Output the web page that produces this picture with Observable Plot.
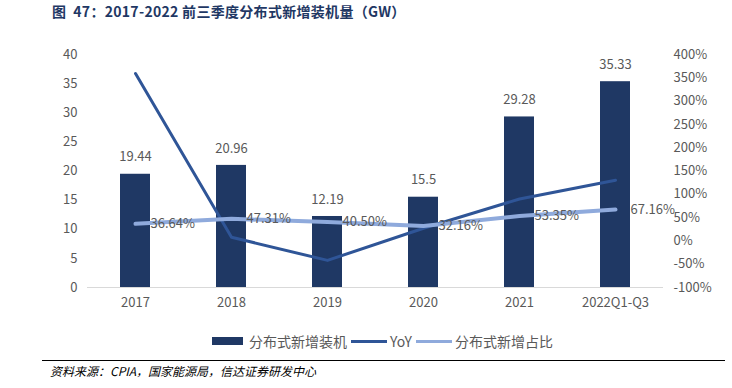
<!DOCTYPE html>
<html>
<head>
<meta charset="utf-8">
<script src="https://cdn.jsdelivr.net/npm/d3@7"></script>
<script src="https://cdn.jsdelivr.net/npm/@observablehq/plot@0.6"></script>
<style>
  html, body { margin: 0; padding: 0; background: #fff; }
  body { width: 732px; height: 388px; overflow: hidden; font-family: "Noto Sans CJK SC", "Noto Sans", sans-serif; }
  #title { height: 22px; line-height: 22px; padding-left: 52px; font-size: 14px; font-weight: bold; color: #1F3864; white-space: nowrap; letter-spacing: 0.3px; }
  #chart svg { display: block; }
  #legend { height: 38px; display: flex; justify-content: flex-start; align-items: center; font-size: 14px; color: #595959; padding-left: 212px; }
  .sw-rect { display: inline-block; width: 31px; height: 8px; background: #1F3864; margin-right: 6px; }
  .sw-line { display: inline-block; width: 36px; height: 3px; margin-right: 3px; margin-left: 4px; }
  #divider { margin-left: 42px; width: 683px; border-top: 1px solid #000; }
  #source { height: 20px; line-height: 20px; padding-left: 50px; font-size: 12px; font-style: italic; color: #000; }
</style>
</head>
<body>
<div id="title">图&nbsp;&nbsp;47：2017-2022 前三季度分布式新增装机量（GW）</div>
<div id="chart"></div>
<div id="legend"></div>
<div id="divider"></div>
<div id="source">资料来源：CPIA，国家能源局，信达证券研发中心</div>
<script>
const categories = ["2017", "2018", "2019", "2020", "2021", "2022Q1-Q3"];
const capacity = [19.44, 20.96, 12.19, 15.5, 29.28, 35.33];
const yoy = [359, 7.8, -41.8, 27.2, 90, 130];
const share = [36.64, 47.31, 40.50, 32.16, 53.35, 67.16];
const shareLabels = ["36.64%", "47.31%", "40.50%", "32.16%", "53.35%", "67.16%"];
const leftTicks = [0, 5, 10, 15, 20, 25, 30, 35, 40];
const rightTicks = [-100, -50, 0, 50, 100, 150, 200, 250, 300, 350, 400];
const seriesNames = ["分布式新增装机", "YoY", "分布式新增占比"];
const colors = ["#1F3864", "#2F5597", "#8FAADC"];

const rows = categories.map((c, i) => ({cat: c, cap: capacity[i], yoy: yoy[i], share: share[i], shareLabel: shareLabels[i]}));
const pct = p => (p + 100) / 500 * 40;

const chart = Plot.plot({
  width: 732,
  height: 300,
  marginTop: 32,
  marginBottom: 35,
  marginLeft: 87,
  marginRight: 69,
  style: {fontFamily: "'Noto Sans CJK SC', 'Noto Sans', sans-serif", fontSize: "13px", color: "#595959", background: "#fff"},
  x: {type: "band", domain: categories, paddingInner: 0.6875, paddingOuter: 0.34375, align: 0.5, label: null},
  y: {domain: [0, 40], label: null},
  marks: [
    Plot.barY(rows, {x: "cat", y: "cap", fill: colors[0]}),
    Plot.ruleY([0], {stroke: "#d9d9d9", strokeWidth: 1}),
    Plot.line(rows, {x: "cat", y: d => pct(d.yoy), stroke: colors[1], strokeWidth: 3}),
    Plot.line(rows, {x: "cat", y: d => pct(d.share), stroke: colors[2], strokeWidth: 4}),
    Plot.text(rows, {x: "cat", y: "cap", text: d => String(d.cap), dy: -17, fill: "#595959", fontSize: 13}),
    Plot.text(rows, {x: "cat", y: d => pct(d.share), text: "shareLabel", dx: 15, textAnchor: "start", fill: "#595959", fontSize: 13}),
    Plot.axisY(leftTicks, {anchor: "left", tickSize: 0, tickPadding: 10, label: null, fontSize: 13}),
    Plot.axisY(rightTicks.map(pct), {anchor: "right", tickSize: 0, tickPadding: 10, label: null, fontSize: 13,
      tickFormat: v => Math.round(v / 40 * 500 - 100) + "%"}),
    Plot.axisX({tickSize: 0, tickPadding: 10, label: null, fontSize: 13})
  ]
});
document.getElementById("chart").appendChild(chart);

const legend = document.getElementById("legend");
legend.innerHTML =
  `<span class="sw-rect"></span><span>${seriesNames[0]}</span>` +
  `<span class="sw-line" style="background:${colors[1]}"></span><span>${seriesNames[1]}</span>` +
  `<span class="sw-line" style="background:${colors[2]}"></span><span>${seriesNames[2]}</span>`;
</script>
</body>
</html>
